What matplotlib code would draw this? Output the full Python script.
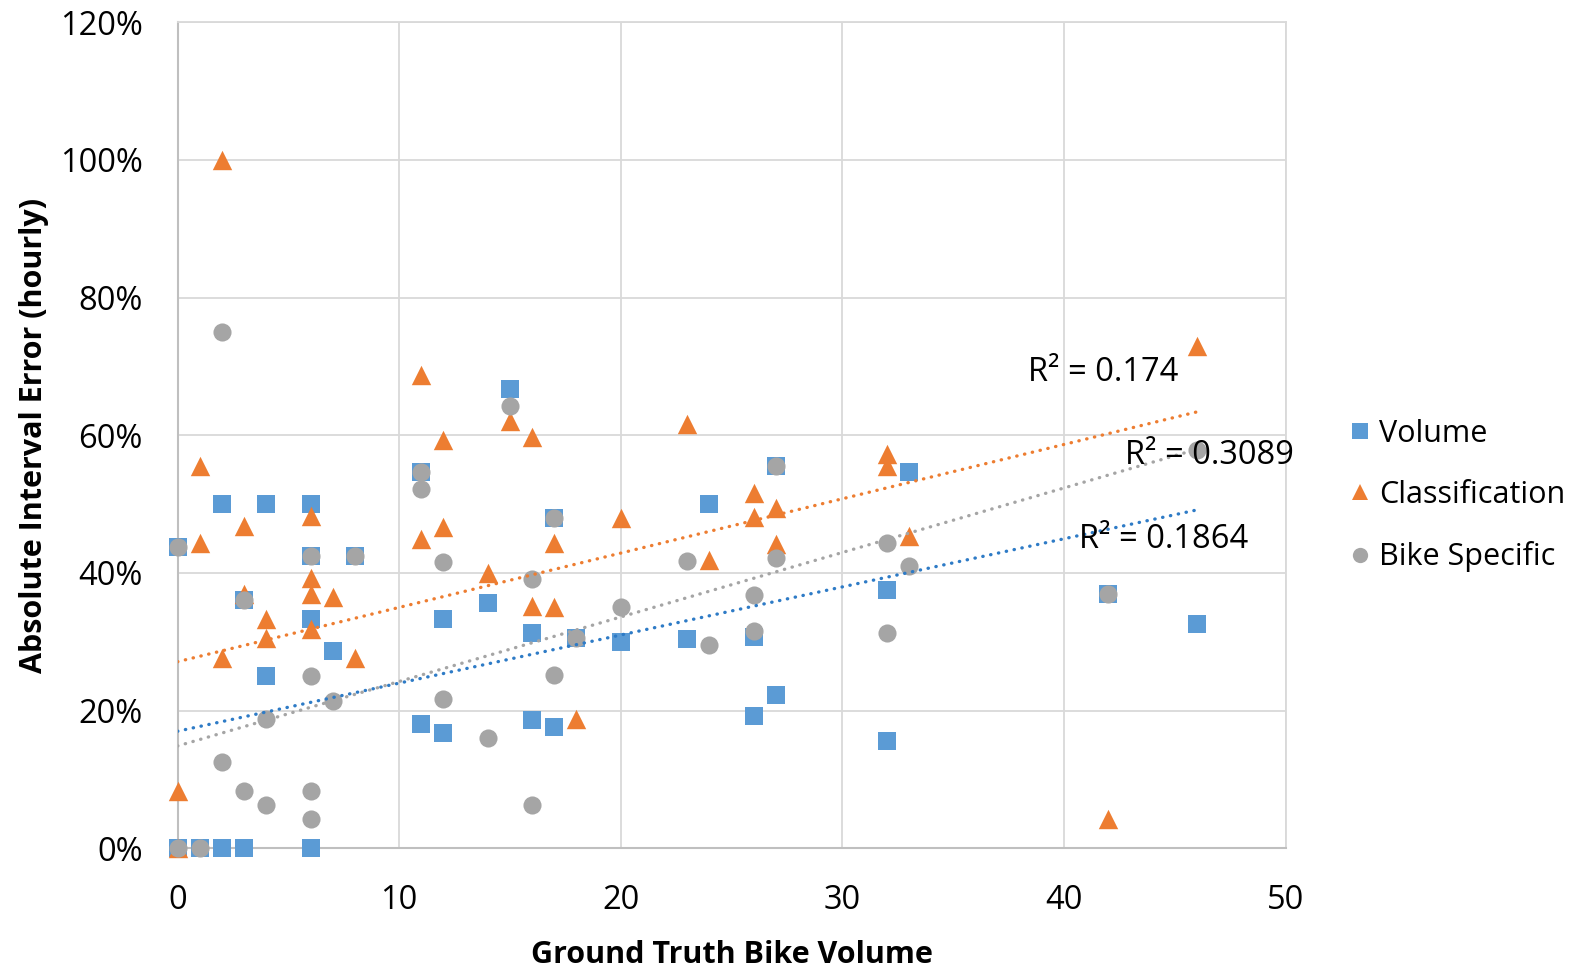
import matplotlib.pyplot as plt
from matplotlib.lines import Line2D

plt.rcParams['font.family'] = ['Open Sans', 'DejaVu Sans']

# Data (y values in percent)
vol_x = [0, 0, 1, 2, 2, 3, 3, 4, 4, 6, 6, 6, 6, 6, 7, 8, 11, 11, 12, 12,
         14, 15, 16, 16, 17, 17, 18, 20, 23, 24, 26, 26, 27, 27, 32, 32, 33, 42, 46]
vol_y = [43.75, 0, 0, 50, 0, 36.1, 0, 50, 25, 50, 42.5, 33.3, 0, 0, 28.6, 42.5, 54.6, 18.1, 33.3, 16.7,
         35.7, 66.7, 31.2, 18.7, 48.0, 17.6, 30.6, 30.0, 30.4, 50.0, 30.7, 19.2, 55.6, 22.2, 37.5, 15.6, 54.6, 37.0, 32.6]

cls_x = [0, 0, 1, 1, 2, 2, 3, 3, 4, 4, 6, 6, 6, 6, 7, 8, 11, 11, 12, 12,
         14, 15, 16, 16, 17, 17, 18, 20, 23, 24, 26, 26, 27, 27, 32, 32, 33, 42, 46]
cls_y = [0, 8.3, 55.6, 44.4, 100, 27.6, 46.8, 37.0, 33.3, 30.5, 48.2, 39.2, 37.0, 31.9, 36.5, 27.6, 68.8, 45.0, 59.3, 46.6,
         40.0, 62.1, 59.7, 35.2, 44.3, 35.0, 18.75, 48.0, 61.7, 41.9, 51.6, 48.1, 49.5, 44.2, 57.3, 55.5, 45.3, 4.2, 73.0]

bike_x = [0, 0, 1, 2, 2, 3, 3, 4, 4, 6, 6, 6, 6, 7, 8, 11, 11, 12, 12,
          14, 15, 16, 16, 17, 17, 18, 20, 23, 24, 26, 26, 27, 27, 32, 32, 33, 42, 46]
bike_y = [43.75, 0, 0, 75, 12.5, 36.1, 8.3, 18.75, 6.25, 42.5, 25, 8.3, 4.2, 21.4, 42.5, 54.6, 52.2, 41.6, 21.7,
          16.0, 64.3, 39.1, 6.25, 48.0, 25.1, 30.6, 35.0, 41.7, 29.5, 36.8, 31.5, 55.6, 42.1, 44.3, 31.3, 41.0, 37.0, 57.9]

series_names = ['Volume', 'Classification', 'Bike Specific']
# linear trendlines: intercept (%), slope (% per bike)
trend_intercept = [17.0, 27.1, 14.86]
trend_slope = [0.699, 0.789, 0.937]
trend_end = 46
r2_text = ['R² = 0.1864', 'R² = 0.174', 'R² = 0.3089']

fig = plt.figure(figsize=(15.91, 9.68), dpi=100)
ax = fig.add_axes([0.1116, 0.1237, 0.6964, 0.8533])

colors = ['#5B9BD5', '#ED7D31', '#A5A5A5']
line_colors = ['#2E7BC6', '#ED7D31', '#A5A5A5']
markers = ['s', '^', 'o']

ax.scatter(vol_x, vol_y, marker='s', s=160, color=colors[0], linewidths=0, zorder=3, clip_on=False)
ax.scatter(cls_x, cls_y, marker='^', s=195, color=colors[1], linewidths=0, zorder=4, clip_on=False)
ax.scatter(bike_x, bike_y, marker='o', s=170, color=colors[2], linewidths=0, zorder=5, clip_on=False)

for i in range(3):
    xs = [0, trend_end]
    ys = [trend_intercept[i], trend_intercept[i] + trend_slope[i] * trend_end]
    ax.plot(xs, ys, color=line_colors[i], lw=2.4, linestyle=(0, (0.1, 2.3)),
            dash_capstyle='round', zorder=6)

ax.text(40.66, 44.8, r2_text[0], fontsize=23.5, ha='left', va='center', zorder=7)
ax.text(38.37, 69.05, r2_text[1], fontsize=23.5, ha='left', va='center', zorder=7)
ax.text(42.77, 57.0, r2_text[2], fontsize=23.5, ha='left', va='center', zorder=7)

ax.set_xlim(0, 50)
ax.set_ylim(0, 120)
ax.set_xticks(range(0, 51, 10))
ax.set_yticks(range(0, 121, 20))
ax.set_yticklabels([f'{v}%' for v in range(0, 121, 20)])
ax.tick_params(length=0, labelsize=23.5)
ax.tick_params(axis='y', pad=25)
ax.tick_params(axis='x', pad=26)

ax.grid(True, color='#D9D9D9', lw=1.3, zorder=0)
ax.set_axisbelow(True)
for side in ['top', 'right']:
    ax.spines[side].set_color('#D9D9D9')
    ax.spines[side].set_linewidth(1.3)
for side in ['left', 'bottom']:
    ax.spines[side].set_color('#BFBFBF')
    ax.spines[side].set_linewidth(1.5)

ax.set_xlabel('Ground Truth Bike Volume', fontsize=22, fontweight='bold', labelpad=16)
ax.set_ylabel('Absolute Interval Error (hourly)', fontsize=22, fontweight='bold', labelpad=8)

handles = [Line2D([], [], marker=markers[i], ls='none', ms=11, color=colors[i], mew=0)
           for i in range(3)]
leg = ax.legend(handles, series_names, loc='center left', bbox_to_anchor=(0.8476, 0.488),
                bbox_transform=fig.transFigure, frameon=False, fontsize=22,
                handlelength=0.75, handletextpad=0.25, labelspacing=1.02,
                borderpad=0, borderaxespad=0, numpoints=1)

fig.savefig('out.png', dpi=100)
